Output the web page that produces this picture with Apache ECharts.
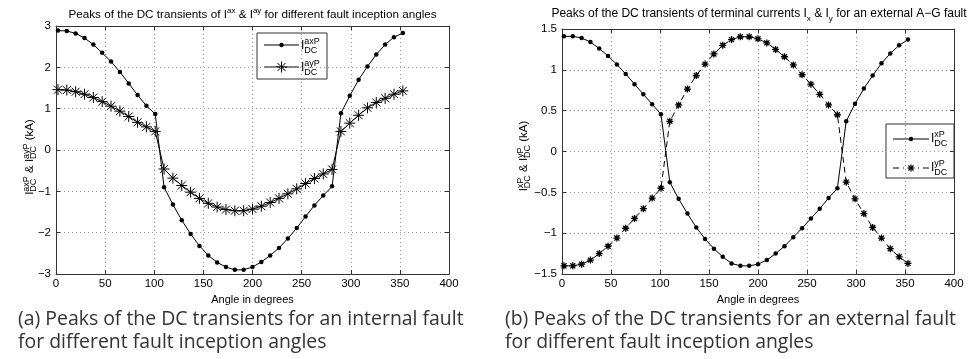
<!DOCTYPE html>
<html><head><meta charset="utf-8">
<script src="https://cdn.jsdelivr.net/npm/echarts@6/dist/echarts.min.js"></script>
<style>html,body{margin:0;padding:0;background:#fff}#c{width:971px;height:359px}</style>
</head><body><div id="c"></div><script>
// ---------- data ----------
const angles = [2,11,20,29,38,47,56,65,74,83,92,101,110,119,128,137,146,155,164,173,182,191,200,209,218,227,236,245,254,263,272,281,290,299,308,317,326,335,344,353];
// (a) internal fault
const iaxP = [2.89,2.88,2.82,2.71,2.55,2.35,2.14,1.89,1.61,1.33,1.07,0.87,
  -0.90,-1.32,-1.70,-2.03,-2.32,-2.55,-2.72,-2.83,-2.90,-2.90,-2.83,-2.71,-2.55,-2.37,-2.14,-1.89,-1.61,-1.34,-1.10,-0.88,
  0.89,1.31,1.70,2.02,2.31,2.55,2.73,2.83];
const iayP = [1.46,1.45,1.41,1.35,1.27,1.17,1.06,0.94,0.81,0.67,0.56,0.45,
  -0.46,-0.68,-0.86,-1.02,-1.17,-1.29,-1.38,-1.44,-1.47,-1.47,-1.43,-1.36,-1.27,-1.17,-1.06,-0.94,-0.81,-0.69,-0.58,-0.47,
  0.45,0.65,0.84,1.02,1.15,1.25,1.35,1.43];
// (b) external fault
const ixP = [1.41,1.41,1.39,1.34,1.26,1.17,1.065,0.95,0.825,0.70,0.58,0.455,
  -0.375,-0.58,-0.76,-0.93,-1.07,-1.19,-1.29,-1.37,-1.40,-1.40,-1.38,-1.33,-1.25,-1.16,-1.05,-0.94,-0.82,-0.70,-0.57,-0.45,
  0.37,0.585,0.77,0.93,1.08,1.20,1.30,1.37];
const iyP = [-1.40,-1.40,-1.38,-1.33,-1.25,-1.16,-1.06,-0.94,-0.82,-0.70,-0.57,-0.45,
  0.37,0.57,0.765,0.93,1.07,1.195,1.30,1.37,1.405,1.405,1.38,1.33,1.25,1.16,1.06,0.94,0.825,0.70,0.57,0.45,
  -0.375,-0.58,-0.76,-0.93,-1.06,-1.19,-1.29,-1.37];
const xRange = [0, 400, 50];
const yRangeA = [-3, 3, 1];
const yRangeB = [-1.5, 1.5, 0.5];
const titleA = ['Peaks of the DC transients of I', {sup:'ax'}, ' & I', {sup:'ay'}, ' for different fault inception angles'];
const titleB = ['Peaks of the DC transients of terminal currents I', {sub:'x'}, ' & I', {sub:'y'}, ' for an external A\u2212G fault'];
const yNameA = ['I', {sup:'axP', sub:'DC'}, ' & I', {sup:'ayP', sub:'DC'}, ' (kA)'];
const yNameB = ['I', {sup:'xP', sub:'DC'}, ' & I', {sup:'yP', sub:'DC'}, ' (kA)'];
const xName = 'Angle in degrees';
const captionA = ['(a) Peaks of the DC transients for an internal fault', 'for different fault inception angles'];
const captionB = ['(b) Peaks of the DC transients for an external fault', 'for different fault inception angles'];

// ---------- helpers ----------
const FAM = 'Liberation Sans';
const ctx = document.createElement('canvas').getContext('2d');
function tw(s, size, fam){ ctx.font = size + 'px "' + (fam||FAM) + '"'; return ctx.measureText(s).width; }
function mathGroup(pieces, o){
  const M = o.main, S = o.small; let x = 0; const kids = [];
  pieces.forEach(p => {
    if (typeof p === 'string') {
      kids.push({type:'text', x:x, y:0, style:{text:p, fontSize:M, fontFamily:FAM, fill:'#000', align:'left', verticalAlign:'middle'}});
      x += tw(p, M);
    } else {
      let w = 0;
      if (p.sup) { kids.push({type:'text', x:x, y:-o.supOff, style:{text:p.sup, fontSize:S, fontFamily:FAM, fill:'#000', align:'left', verticalAlign:'middle'}}); w = Math.max(w, tw(p.sup, S)); }
      if (p.sub) { kids.push({type:'text', x:x, y:o.subOff, style:{text:p.sub, fontSize:S, fontFamily:FAM, fill:'#000', align:'left', verticalAlign:'middle'}}); w = Math.max(w, tw(p.sub, S)); }
      x += w;
    }
  });
  const off = o.align === 'center' ? -x/2 : 0;
  kids.forEach(k => k.x += off);
  return {type:'group', x:o.x, y:o.y, rotation:o.rotation||0, children:kids, silent:true};
}
function asterisk(cx, cy, r, lw){
  const d = r*0.72;
  return [[0,-r,0,r],[-r,0,r,0],[-d,-d,d,d],[-d,d,d,-d]].map(s => ({type:'line', shape:{x1:cx+s[0],y1:cy+s[1],x2:cx+s[2],y2:cy+s[3]}, style:{stroke:'#000', lineWidth:lw}}));
}
const STAR = 'path://M5,0L5,10M0,5L10,5M1.4,1.4L8.6,8.6M1.4,8.6L8.6,1.4';
const fmt = v => String(v).replace('-', '\u2212');
const pairs = ys => angles.map((a,i) => [a, ys[i]]);

const AX = '#333';
const TICKFS = 11.5;
function xAxes(gi){
  return [
    {gridIndex:gi, type:'value', min:xRange[0], max:xRange[1], interval:xRange[2], position:'bottom',
     name:xName, nameLocation:'middle', nameGap:15, nameTextStyle:{fontSize:11, fontFamily:FAM, color:'#000'},
     axisLine:{show:true, onZero:false, lineStyle:{color:AX, width:1}},
     axisTick:{inside:true, length:4, lineStyle:{color:AX}},
     axisLabel:{fontSize:TICKFS, fontFamily:FAM, color:'#000', margin:4, formatter:fmt},
     splitLine:{show:true, lineStyle:{color:'#9a9a9a', width:1, type:[1,3]}}},
    {gridIndex:gi, type:'value', min:xRange[0], max:xRange[1], interval:xRange[2], position:'top',
     axisLine:{show:true, onZero:false, lineStyle:{color:AX, width:1}},
     axisTick:{inside:true, length:4, lineStyle:{color:AX}}, axisLabel:{show:false}, splitLine:{show:false}}
  ];
}
function yAxes(gi, r){
  return [
    {gridIndex:gi, type:'value', min:r[0], max:r[1], interval:r[2], position:'left',
     axisLine:{show:true, onZero:false, lineStyle:{color:AX, width:1}},
     axisTick:{inside:true, length:4, lineStyle:{color:AX}},
     axisLabel:{fontSize:TICKFS, fontFamily:FAM, color:'#000', margin:5, formatter:fmt},
     splitLine:{show:true, lineStyle:{color:'#9a9a9a', width:1, type:[1,3]}}},
    {gridIndex:gi, type:'value', min:r[0], max:r[1], interval:r[2], position:'right',
     axisLine:{show:true, onZero:false, lineStyle:{color:AX, width:1}},
     axisTick:{inside:true, length:4, lineStyle:{color:AX}}, axisLabel:{show:false}, splitLine:{show:false}}
  ];
}
const dotStyle = {symbol:'circle', symbolSize:4.5, itemStyle:{color:'#000', borderWidth:0}};

const graphics = [];
graphics.push(mathGroup(titleA, {x:252.5, y:15, main:11.7, small:8, supOff:4.5, subOff:4, align:'center'}));
graphics.push(mathGroup(titleB, {x:759, y:14, main:12, small:8, supOff:4.5, subOff:4.5, align:'center'}));
graphics.push(mathGroup(yNameA, {x:30, y:157, main:11.5, small:9, supOff:3.7, subOff:3.7, align:'center', rotation:Math.PI/2}));
graphics.push(mathGroup(yNameB, {x:524, y:156, main:11.5, small:9, supOff:3.7, subOff:3.7, align:'center', rotation:Math.PI/2}));
// legend (a)
graphics.push({type:'rect', shape:{x:257, y:33, width:70, height:46}, style:{fill:'#fff', stroke:AX, lineWidth:1}});
graphics.push({type:'line', shape:{x1:264, y1:45, x2:299, y2:45}, style:{stroke:'#000', lineWidth:1}});
graphics.push({type:'circle', shape:{cx:281.5, cy:45, r:2.2}, style:{fill:'#000'}});
graphics.push(mathGroup(['I', {sup:'axP', sub:'DC'}], {x:301, y:46, main:12, small:9, supOff:4.5, subOff:4.5}));
graphics.push({type:'line', shape:{x1:264, y1:67, x2:299, y2:67}, style:{stroke:'#000', lineWidth:1}});
asterisk(281.5, 67, 5.5, 1).forEach(g => graphics.push(g));
graphics.push(mathGroup(['I', {sup:'ayP', sub:'DC'}], {x:301, y:68, main:12, small:9, supOff:4.5, subOff:4.5}));
// legend (b)
graphics.push({type:'rect', shape:{x:886, y:124, width:68, height:54}, style:{fill:'#fff', stroke:AX, lineWidth:1}});
graphics.push({type:'line', shape:{x1:893, y1:139, x2:929, y2:139}, style:{stroke:'#000', lineWidth:1}});
graphics.push({type:'circle', shape:{cx:911, cy:139, r:2.2}, style:{fill:'#000'}});
graphics.push(mathGroup(['I', {sup:'xP', sub:'DC'}], {x:931, y:139, main:12, small:9, supOff:4.5, subOff:4.5}));
graphics.push({type:'line', shape:{x1:893, y1:168, x2:929, y2:168}, style:{stroke:'#000', lineWidth:1, lineDash:[6,4]}});
graphics.push({type:'rect', shape:{x:904, y:161, width:14, height:14}, style:{fill:'#fff'}});
asterisk(911, 168, 3.5, 1.3).forEach(g => graphics.push(g));
graphics.push(mathGroup(['I', {sup:'yP', sub:'DC'}], {x:931, y:168, main:12, small:9, supOff:4.5, subOff:4.5}));
// captions (font size fitted to the caption width)
const CAPFAM = 'Open Sans';
const capFs = 18 * 446 / tw(captionA[0], 18, CAPFAM);
const CAP = {fontSize:capFs, fontFamily:CAPFAM, fill:'#333', align:'left', verticalAlign:'middle'};
[[captionA, 18], [captionB, 505]].forEach(([c, x]) => {
  graphics.push({type:'text', x:x, y:319, style:Object.assign({text:c[0]}, CAP)});
  graphics.push({type:'text', x:x, y:342, style:Object.assign({text:c[1]}, CAP)});
});

const option = {
  animation:false,
  backgroundColor:'#fff',
  grid:[
    {left:56, top:26, width:393, height:248, show:false},
    {left:562, top:29, width:392, height:245, show:false}
  ],
  xAxis:[...xAxes(0), ...xAxes(1)],
  yAxis:[...yAxes(0, yRangeA), ...yAxes(1, yRangeB)],
  series:[
    Object.assign({name:'IaxP', type:'line', xAxisIndex:0, yAxisIndex:0, data:pairs(iaxP),
      lineStyle:{color:'#000', width:1}}, dotStyle),
    {name:'IayP', type:'line', xAxisIndex:0, yAxisIndex:0, data:pairs(iayP),
      lineStyle:{color:'#000', width:1}, symbol:STAR, symbolSize:11,
      itemStyle:{color:'#000', borderColor:'#000', borderWidth:1}},
    Object.assign({name:'IxP', type:'line', xAxisIndex:2, yAxisIndex:2, data:pairs(ixP),
      lineStyle:{color:'#000', width:1}}, dotStyle),
    {name:'IyP', type:'line', xAxisIndex:2, yAxisIndex:2, data:pairs(iyP),
      lineStyle:{color:'#000', width:1, type:[6,4]}, symbol:STAR, symbolSize:7,
      itemStyle:{color:'#000', borderColor:'#000', borderWidth:1.3}}
  ],
  graphic:graphics
};
const chart = echarts.init(document.getElementById('c'));
chart.setOption(option);
</script></body></html>
